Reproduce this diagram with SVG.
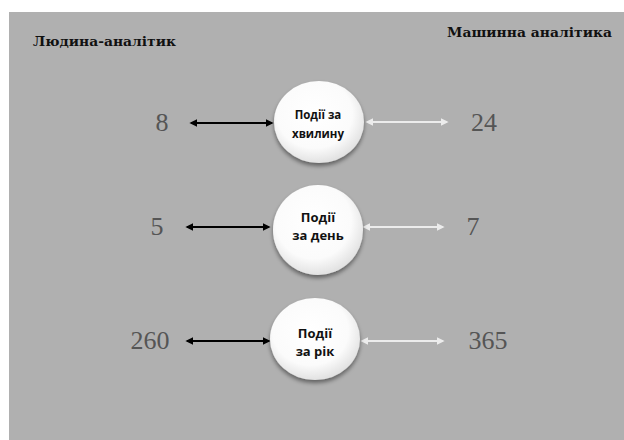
<svg xmlns="http://www.w3.org/2000/svg" width="624" height="440" viewBox="0 0 624 440">
<defs>
<style>
.hdr{font-family:"DejaVu Serif","Liberation Serif",serif;font-weight:bold;font-size:13px;fill:#111}
.num{font-family:"Liberation Serif","Times New Roman",serif;font-size:26px;fill:#555;text-anchor:middle}
.lbl{font-family:"Open Sans","Noto Sans","DejaVu Sans",sans-serif;font-weight:bold;fill:#111;text-anchor:middle}
.blk{stroke:#000;stroke-width:2;fill:none;marker-start:url(#ab);marker-end:url(#ab)}
.wht{stroke:#ececec;stroke-width:2;fill:none;marker-start:url(#aw);marker-end:url(#aw)}
</style>
<radialGradient id="g" cx="0.45" cy="0.4" r="0.6">
<stop offset="0" stop-color="#ffffff"/>
<stop offset="0.7" stop-color="#fbfbfb"/>
<stop offset="1" stop-color="#e2e2e2"/>
</radialGradient>
<filter id="sh" x="-30%" y="-30%" width="160%" height="170%">
<feDropShadow dx="0" dy="3" stdDeviation="2" flood-color="#000" flood-opacity="0.45"/>
</filter>
<marker id="ab" viewBox="0 0 10 10" refX="8" refY="5" markerWidth="4" markerHeight="4" orient="auto-start-reverse">
<path d="M0,0 L10,5 L0,10 z" fill="#000"/>
</marker>
<marker id="aw" viewBox="0 0 10 10" refX="8" refY="5" markerWidth="4" markerHeight="4" orient="auto-start-reverse">
<path d="M0,0 L10,5 L0,10 z" fill="#ececec"/>
</marker>
</defs>
<rect x="0" y="0" width="624" height="440" fill="#ffffff"/>
<rect x="9" y="12" width="615" height="428" fill="#b0b0b0"/>
<text class="hdr" x="33" y="46" textLength="143" lengthAdjust="spacingAndGlyphs">Людина-аналітик</text>
<text class="hdr" x="447" y="37" textLength="165" lengthAdjust="spacingAndGlyphs">Машинна аналітика</text>
<g id="connectors">
<line class="blk" x1="191" y1="123" x2="272" y2="123"/>
<line class="wht" x1="367" y1="122" x2="447" y2="122"/>
<line class="blk" x1="187" y1="227" x2="269" y2="227"/>
<line class="wht" x1="364" y1="227" x2="443" y2="227"/>
<line class="blk" x1="187" y1="341" x2="269" y2="341"/>
<line class="wht" x1="362" y1="341" x2="443" y2="341"/>
</g>
<g id="node1">
<ellipse cx="319" cy="122" rx="45" ry="41" fill="url(#g)" filter="url(#sh)"/>
<text class="lbl" x="318" y="119" font-size="11.5">Події за</text>
<text class="lbl" x="318" y="138" font-size="11.5">хвилину</text>
</g>
<g id="node2">
<ellipse cx="318" cy="230" rx="45" ry="45" fill="url(#g)" filter="url(#sh)"/>
<text class="lbl" x="318" y="222" font-size="13">Події</text>
<text class="lbl" x="318" y="240" font-size="13">за день</text>
</g>
<g id="node3">
<ellipse cx="315" cy="339" rx="45" ry="41" fill="url(#g)" filter="url(#sh)"/>
<text class="lbl" x="315" y="338" font-size="13">Події</text>
<text class="lbl" x="315" y="356" font-size="13">за рік</text>
</g>
<g id="values">
<text class="num" x="162" y="131">8</text>
<text class="num" x="484" y="131">24</text>
<text class="num" x="157" y="235">5</text>
<text class="num" x="473" y="235">7</text>
<text class="num" x="150" y="349">260</text>
<text class="num" x="488" y="349">365</text>
</g>
</svg>
